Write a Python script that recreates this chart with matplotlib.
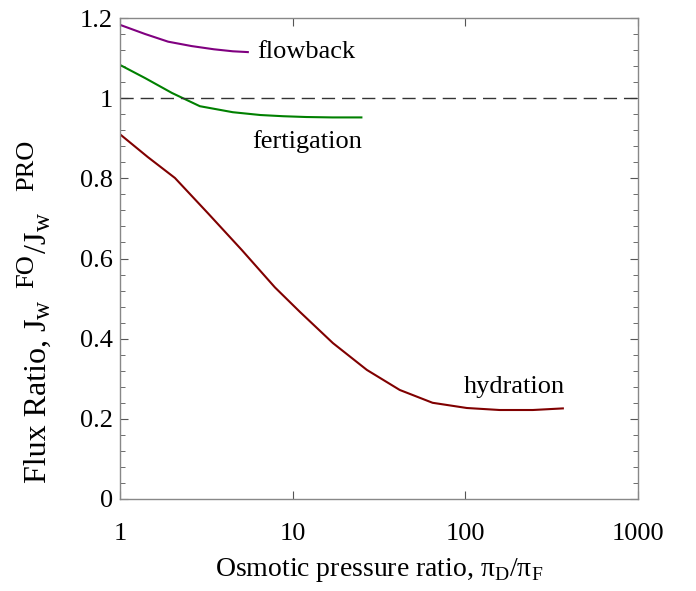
import matplotlib.pyplot as plt
from matplotlib.ticker import FixedLocator

plt.rcParams["font.family"] = ["Liberation Serif", "DejaVu Serif"]
plt.rcParams["mathtext.fontset"] = "custom"
plt.rcParams["mathtext.rm"] = "Liberation Serif"

# values
flow_x = [1.0, 1.4, 1.9, 2.6, 3.5, 4.5, 5.5]
flow_y = [1.183, 1.160, 1.141, 1.130, 1.122, 1.117, 1.115]

fert_x = [1.0, 1.4, 2.0, 2.9, 4.5, 6.5, 8.8, 12.0, 17.0, 25.0]
fert_y = [1.083, 1.050, 1.013, 0.980, 0.965, 0.958, 0.955, 0.953, 0.952, 0.952]

hyd_x = [1.0, 1.45, 2.08, 3.23, 5.08, 7.89, 11.0, 17.1, 26.9, 41.7, 64.6, 102.0, 158.0, 246.0, 367.0]
hyd_y = [0.910, 0.853, 0.801, 0.713, 0.621, 0.528, 0.467, 0.389, 0.322, 0.272, 0.240, 0.227, 0.222, 0.222, 0.226]

labels = {"flowback": (12.0, 1.115), "fertigation": (12.2, 0.893), "hydration": (192.0, 0.279)}

xticks = [1, 10, 100, 1000]
xtick_labels = ["1", "10", "100", "1000"]
yticks = [0, 0.2, 0.4, 0.6, 0.8, 1.0, 1.2]
ytick_labels = ["0", "0.2", "0.4", "0.6", "0.8", "1", "1.2"]
yminor = [i * 0.04 for i in range(31)]

# y label pieces: text, size, sideways shift (pt), gap before (pt)
ylabel_parts = [
    ("Flux Ratio, J", 23, 0, 0),
    ("w", 18, 3, 0),
    ("FO", 19, -9, 9),
    ("/J", 23, 0, 1),
    ("w", 18, 3, 0),
    ("PRO", 19, -9, 16),
]

fig = plt.figure(figsize=(6.96, 5.91), dpi=100)
ax = fig.add_axes([0.1724, 0.1557, 0.7443, 0.8138])

ax.plot(flow_x, flow_y, color="#800080", lw=1.5)
ax.plot(fert_x, fert_y, color="#008000", lw=1.5)
ax.plot(hyd_x, hyd_y, color="#800000", lw=1.5)
ax.axhline(1.0, color="#333333", lw=1.0, dashes=(9.5, 5))

for name, (lx, ly) in labels.items():
    ax.text(lx, ly, name, fontsize=19, ha="center", va="center")

ax.set_xscale("log")
ax.set_xlim(1, 1000)
ax.set_ylim(0, 1.2)
ax.xaxis.set_major_locator(FixedLocator(xticks))
ax.xaxis.set_minor_locator(FixedLocator([]))
ax.set_xticklabels(xtick_labels)
ax.yaxis.set_major_locator(FixedLocator(yticks))
ax.yaxis.set_minor_locator(FixedLocator(yminor))
ax.set_yticklabels(ytick_labels)

for s in ax.spines.values():
    s.set_color("#888888")
    s.set_linewidth(1.0)
ax.tick_params(which="both", direction="in", top=True, right=True, color="#555555")
ax.tick_params(which="major", length=6, labelsize=19)
ax.tick_params(which="minor", length=3.5)
ax.tick_params(axis="x", pad=17)
ax.tick_params(axis="y", pad=5)

ax.set_xlabel("Osmotic pressure ratio, π$_\\mathrm{D}$/π$_\\mathrm{F}$", fontsize=20, labelpad=8)

# y label built piece by piece so the scripts sit like the original
base_x = -0.143
prev = None
for txt, size, dx, gap in ylabel_parts:
    if prev is None:
        xy, coords = (base_x, 0.033), "axes fraction"
    else:
        xy, coords = (base_x, 1), ("axes fraction", prev)
    prev = ax.annotate(txt, xy=xy, xycoords=coords, xytext=(dx, gap),
                       textcoords="offset points", rotation=90,
                       rotation_mode="anchor", ha="left", va="baseline",
                       fontsize=size, annotation_clip=False)

plt.savefig("out.png", dpi=100)
